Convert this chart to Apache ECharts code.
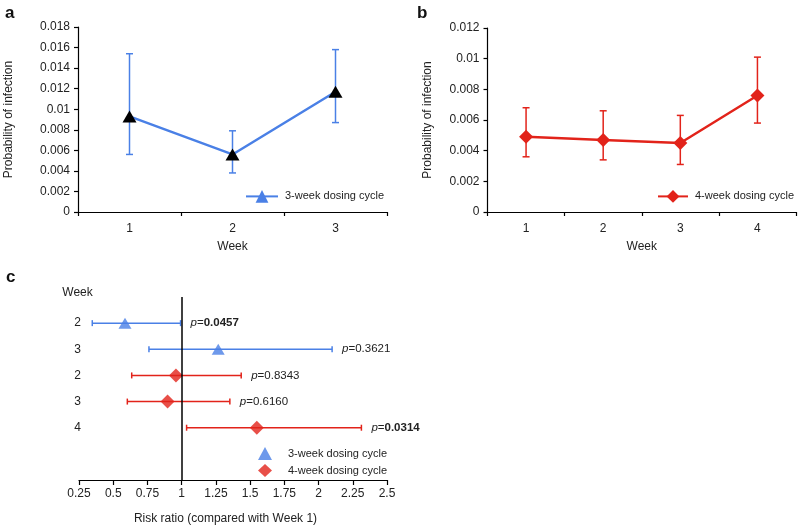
<!DOCTYPE html>
<html><head><meta charset="utf-8">
<script src="https://cdn.jsdelivr.net/npm/echarts@6/dist/echarts.min.js"></script>
<style>html,body{margin:0;padding:0;background:#fff}#c{width:798px;height:526px}</style>
</head><body><div id="c"></div>
<script>
// Panel a: 3-week dosing cycle
const weeksA = ['1', '2', '3'];
const probA = [0.0093, 0.0056, 0.0117];
const lowA = [0.0056, 0.0038, 0.0087];
const highA = [0.0154, 0.0079, 0.0158];
// Panel b: 4-week dosing cycle
const weeksB = ['1', '2', '3', '4'];
const probB = [0.0049, 0.0047, 0.0045, 0.0076];
const lowB = [0.0036, 0.0034, 0.0031, 0.0058];
const highB = [0.0068, 0.0066, 0.0063, 0.0101];
// Panel c: risk ratios vs week 1
const forestRowLabels = ['Week', '2', '3', '2', '3', '4', '', ''];
const rows3 = [1, 2];
const rr3 = [0.586, 1.267];
const rrLow3 = [0.347, 0.761];
const rrHigh3 = [0.992, 2.099];
const pVal3 = ['0.0457', '0.3621'];
const pSig3 = [true, false];
const rows4 = [3, 4, 5];
const rr4 = [0.958, 0.897, 1.549];
const rrLow4 = [0.635, 0.603, 1.036];
const rrHigh4 = [1.435, 1.352, 2.313];
const pVal4 = ['0.8343', '0.6160', '0.0314'];
const pSig4 = [false, false, true];

const BLUE = '#4a80e6', RED = '#e2231a', TXT = '#222', FONT = "'Liberation Sans', Arial, sans-serif";
const NAME3 = '3-week dosing cycle', NAME4 = '4-week dosing cycle';
const fmt = n => n.split('#')[0];

function vErr(color) {
  return function (params, api) {
    const x = api.value(0), lo = api.value(1), hi = api.value(2);
    const a = api.coord([x, lo]), b = api.coord([x, hi]);
    const w = 3.5, st = { stroke: color, lineWidth: 1.5 };
    return { type: 'group', children: [
      { type: 'line', shape: { x1: a[0], y1: a[1], x2: b[0], y2: b[1] }, style: st },
      { type: 'line', shape: { x1: a[0] - w, y1: a[1], x2: a[0] + w, y2: a[1] }, style: st },
      { type: 'line', shape: { x1: b[0] - w, y1: b[1], x2: b[0] + w, y2: b[1] }, style: st }
    ] };
  };
}
function hErr(color, pVals, pSig) {
  return function (params, api) {
    const lo = api.value(0), hi = api.value(1), r = api.value(2);
    const a = api.coord([lo, r]), b = api.coord([hi, r]);
    const h = 3, st = { stroke: color, lineWidth: 1.5 };
    const i = params.dataIndex;
    const num = pSig[i] ? '{b|' + pVals[i] + '}' : '{n|' + pVals[i] + '}';
    return { type: 'group', children: [
      { type: 'line', shape: { x1: a[0], y1: a[1], x2: b[0], y2: b[1] }, style: st },
      { type: 'line', shape: { x1: a[0], y1: a[1] - h, x2: a[0], y2: a[1] + h }, style: st },
      { type: 'line', shape: { x1: b[0], y1: b[1] - h, x2: b[0], y2: b[1] + h }, style: st },
      { type: 'text', style: {
          x: b[0] + 10, y: b[1], verticalAlign: 'middle', align: 'left',
          text: '{i|p}{n|=}' + num,
          rich: {
            i: { fontStyle: 'italic', fontSize: 11.5, fontFamily: FONT, fill: TXT },
            n: { fontSize: 11.5, fontFamily: FONT, fill: TXT },
            b: { fontSize: 11.5, fontWeight: 'bold', fontFamily: FONT, fill: TXT }
          }
      } }
    ] };
  };
}

const axLine = { show: true, onZero: false, lineStyle: { color: '#000', width: 1.2 } };
const axTick = { show: true, length: 4, lineStyle: { color: '#000', width: 1.2 } };
const lbl = { color: TXT, fontSize: 12, fontFamily: FONT };
const legTxt = { color: TXT, fontSize: 11, fontFamily: FONT, padding: [0, 0, 0, 2] };

const option = {
  animation: false,
  textStyle: { fontFamily: FONT },
  title: [
    { text: 'a', left: 5, top: 5, padding: 0, textStyle: { fontSize: 17, fontWeight: 'bold', color: '#111', fontFamily: FONT } },
    { text: 'b', left: 417, top: 5, padding: 0, textStyle: { fontSize: 17, fontWeight: 'bold', color: '#111', fontFamily: FONT } },
    { text: 'c', left: 6, top: 269, padding: 0, textStyle: { fontSize: 17, fontWeight: 'bold', color: '#111', fontFamily: FONT } }
  ],
  grid: [
    { left: 78, top: 27, width: 309, height: 185 },
    { left: 487.5, top: 28, width: 308.5, height: 184 },
    { left: 79, top: 297, width: 308, height: 184 }
  ],
  legend: [
    { left: 245, top: 190, padding: 0, itemWidth: 32, itemHeight: 16, selectedMode: false, formatter: fmt,
      data: [{ name: NAME3 + '#a', itemStyle: { color: BLUE } }], textStyle: legTxt },
    { left: 657, top: 190, padding: 0, itemWidth: 30, itemHeight: 16, selectedMode: false, formatter: fmt,
      data: [NAME4 + '#b'], textStyle: legTxt },
    { left: 258, top: 447, padding: 0, orient: 'vertical', itemWidth: 14, itemHeight: 13, itemGap: 4, selectedMode: false, formatter: fmt,
      data: [NAME3 + '#c', NAME4 + '#c'],
      textStyle: { color: TXT, fontSize: 11, fontFamily: FONT, padding: [0, 0, 0, 11] } }
  ],
  xAxis: [
    { gridIndex: 0, type: 'category', data: weeksA, boundaryGap: true, axisLine: axLine, axisTick: axTick,
      axisLabel: Object.assign({ margin: 11 }, lbl), splitLine: { show: false },
      name: 'Week', nameLocation: 'middle', nameGap: 29, nameTextStyle: lbl },
    { gridIndex: 1, type: 'category', data: weeksB, boundaryGap: true, axisLine: axLine, axisTick: axTick,
      axisLabel: Object.assign({ margin: 11 }, lbl), splitLine: { show: false },
      name: 'Week', nameLocation: 'middle', nameGap: 29, nameTextStyle: lbl },
    { gridIndex: 2, type: 'value', position: 'bottom', min: 0.25, max: 2.5, interval: 0.25, axisLine: axLine,
      axisTick: { show: true, length: 5, lineStyle: { color: '#000', width: 1.2 } },
      axisLabel: Object.assign({ margin: 8 }, lbl), splitLine: { show: false },
      name: 'Risk ratio (compared with Week 1)', nameLocation: 'middle', nameGap: 33,
      nameTextStyle: Object.assign({ padding: [0, 15, 0, 0] }, lbl) }
  ],
  yAxis: [
    { gridIndex: 0, type: 'value', min: 0, max: 0.018, interval: 0.002, axisLine: axLine, axisTick: axTick,
      axisLabel: Object.assign({ margin: 8 }, lbl), splitLine: { show: false },
      name: 'Probability of infection', nameLocation: 'middle', nameGap: 63, nameTextStyle: lbl },
    { gridIndex: 1, type: 'value', min: 0, max: 0.012, interval: 0.002, axisLine: axLine, axisTick: axTick,
      axisLabel: Object.assign({ margin: 8 }, lbl), splitLine: { show: false },
      name: 'Probability of infection', nameLocation: 'middle', nameGap: 54, nameTextStyle: lbl },
    { gridIndex: 2, type: 'value', min: 0, max: 7, interval: 1, inverse: true,
      axisLine: { show: false }, axisTick: { show: false }, splitLine: { show: false },
      axisLabel: Object.assign({ margin: 1.5, align: 'center',
        formatter: v => v === 0 ? '{w|' + forestRowLabels[0] + '}' : (forestRowLabels[v] || ''),
        rich: { w: { fontSize: 12, color: TXT, fontFamily: FONT, padding: [0, 0, 8, 0] } } }, lbl) }
  ],
  series: [
    { type: 'custom', name: 'errA', xAxisIndex: 0, yAxisIndex: 0, z: 1,
      renderItem: vErr(BLUE), encode: { x: 0, y: [1, 2] },
      data: weeksA.map((w, i) => [i, lowA[i], highA[i]]) },
    { type: 'line', name: NAME3 + '#a', xAxisIndex: 0, yAxisIndex: 0, z: 3,
      data: probA, symbol: 'triangle', symbolSize: [14, 12],
      lineStyle: { color: BLUE, width: 2.5 }, itemStyle: { color: '#000' } },
    { type: 'custom', name: 'errB', xAxisIndex: 1, yAxisIndex: 1, z: 1,
      renderItem: vErr(RED), encode: { x: 0, y: [1, 2] },
      data: weeksB.map((w, i) => [i, lowB[i], highB[i]]) },
    { type: 'line', name: NAME4 + '#b', xAxisIndex: 1, yAxisIndex: 1, z: 3,
      data: probB, symbol: 'diamond', symbolSize: 14,
      lineStyle: { color: RED, width: 2.5 }, itemStyle: { color: RED } },
    { type: 'custom', name: 'err3', xAxisIndex: 2, yAxisIndex: 2, z: 1,
      renderItem: hErr(BLUE, pVal3, pSig3), encode: { x: [0, 1], y: 2 },
      data: rows3.map((r, i) => [rrLow3[i], rrHigh3[i], r]) },
    { type: 'custom', name: 'err4', xAxisIndex: 2, yAxisIndex: 2, z: 1,
      renderItem: hErr(RED, pVal4, pSig4), encode: { x: [0, 1], y: 2 },
      data: rows4.map((r, i) => [rrLow4[i], rrHigh4[i], r]) },
    { type: 'scatter', name: NAME3 + '#c', xAxisIndex: 2, yAxisIndex: 2, z: 3,
      symbol: 'triangle', symbolSize: [13, 11], itemStyle: { color: BLUE },
      data: rows3.map((r, i) => [rr3[i], r]),
      markLine: { silent: true, symbol: 'none', label: { show: false },
        lineStyle: { color: '#000', width: 1.5, type: 'solid' }, data: [{ xAxis: 1 }] } },
    { type: 'scatter', name: NAME4 + '#c', xAxisIndex: 2, yAxisIndex: 2, z: 3,
      symbol: 'diamond', symbolSize: 14, itemStyle: { color: RED },
      data: rows4.map((r, i) => [rr4[i], r]) }
  ]
};
const chart = echarts.init(document.getElementById('c'), null, { renderer: 'canvas' });
chart.setOption(option);
</script></body></html>
